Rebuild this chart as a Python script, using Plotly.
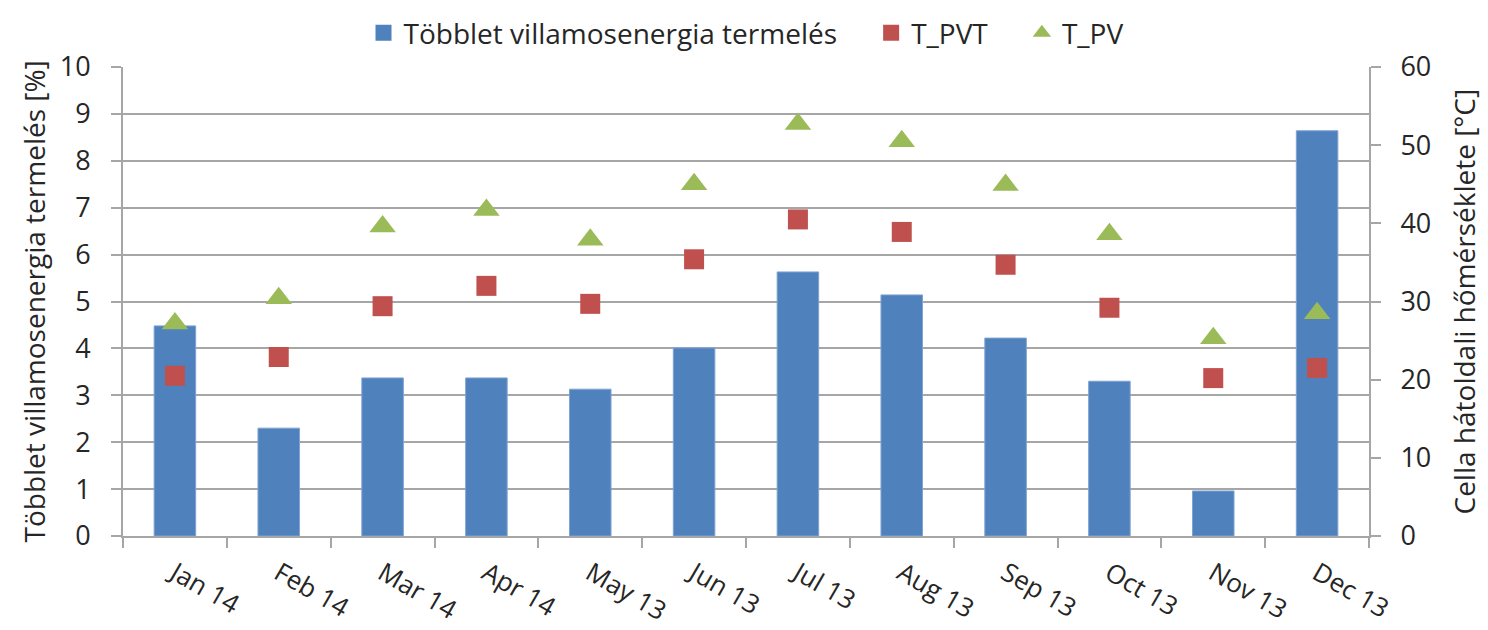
import plotly.graph_objects as go

months = ["Jan 14", "Feb 14", "Mar 14", "Apr 14", "May 13", "Jun 13",
          "Jul 13", "Aug 13", "Sep 13", "Oct 13", "Nov 13", "Dec 13"]
tobblet = [4.48, 2.30, 3.37, 3.37, 3.13, 4.01, 5.63, 5.14, 4.22, 3.30, 0.96, 8.64]
t_pvt = [20.5, 22.9, 29.4, 32.0, 29.7, 35.4, 40.5, 38.9, 34.7, 29.2, 20.2, 21.5]
t_pv = [27.2, 30.4, 39.6, 41.7, 37.9, 45.0, 52.7, 50.5, 44.9, 38.6, 25.3, 28.5]

FONT = "Open Sans"
GRID = "#A6A6A6"
TXT = "#262626"
BLUE, RED, GREEN = "#4F81BD", "#C0504D", "#9BBB59"
PAD = "\u00a0" * 4

fig = go.Figure()
fig.add_trace(go.Bar(x=months, y=tobblet, name="Többlet villamosenergia termelés",
                     marker=dict(color=BLUE, line=dict(color="#7FA3D3", width=1)),
                     yaxis="y", showlegend=False))
# legend entry for the bar series (square symbol like the reference legend)
fig.add_trace(go.Scatter(x=[None], y=[None], name="Többlet villamosenergia termelés" + PAD,
                         mode="markers", marker=dict(symbol="square", size=16, color=BLUE),
                         yaxis="y"))
fig.add_trace(go.Scatter(x=months, y=t_pvt, name="T_PVT" + PAD, mode="markers",
                         marker=dict(symbol="square", size=20, color=RED),
                         yaxis="y2"))
fig.add_trace(go.Scatter(x=months, y=t_pv, name="T_PV", mode="markers",
                         marker=dict(symbol="triangle-up", size=23, color=GREEN),
                         yaxis="y2"))

fig.update_layout(
    width=1480, height=622,
    margin=dict(l=115, r=119, t=59, b=94, autoexpand=False),
    paper_bgcolor="white", plot_bgcolor="white",
    font=dict(family=FONT, size=27, color=TXT),
    bargap=0.6,
    showlegend=True,
    legend=dict(orientation="h", x=0.5, xanchor="center", y=1.1258, yanchor="top",
                font=dict(size=28, color=TXT),
                traceorder="normal", bgcolor="rgba(0,0,0,0)"),
    xaxis=dict(type="category", range=[-0.5, 11.5], tickangle=30, tickson="boundaries",
               ticks="outside", ticklen=10, tickcolor=GRID, tickwidth=2,
               showline=True, linecolor=GRID, linewidth=2, automargin=False,
               ticklabelstandoff=10,
               showgrid=False, tickfont=dict(size=26, color=TXT)),
    yaxis=dict(range=[0, 10], dtick=1, showgrid=True, gridcolor=GRID, gridwidth=2,
               ticks="outside", ticklen=10, tickcolor=GRID, tickwidth=2,
               showline=True, linecolor=GRID, linewidth=2, zeroline=False,
               ticklabelstandoff=15,
               automargin=False, tickfont=dict(size=27, color=TXT)),
    yaxis2=dict(range=[0, 60], dtick=10, overlaying="y", side="right",
                showgrid=False, ticks="outside", ticklen=10, tickcolor=GRID, tickwidth=2,
                showline=True, linecolor=GRID, linewidth=2, zeroline=False,
                ticklabelstandoff=14,
                automargin=False, tickfont=dict(size=27, color=TXT)),
    annotations=[
        dict(text="Többlet villamosenergia termelés [%]", textangle=-90,
             xref="paper", yref="paper", x=0, y=0.5, xshift=-90,
             xanchor="center", yanchor="middle", showarrow=False,
             font=dict(size=28, color=TXT)),
        dict(text="Cella hátoldali hőmérséklete [°C]", textangle=-90,
             xref="paper", yref="paper", x=1, y=0.5, xshift=94,
             xanchor="center", yanchor="middle", showarrow=False,
             font=dict(size=28, color=TXT)),
    ],
)

fig.write_html("out.html")
